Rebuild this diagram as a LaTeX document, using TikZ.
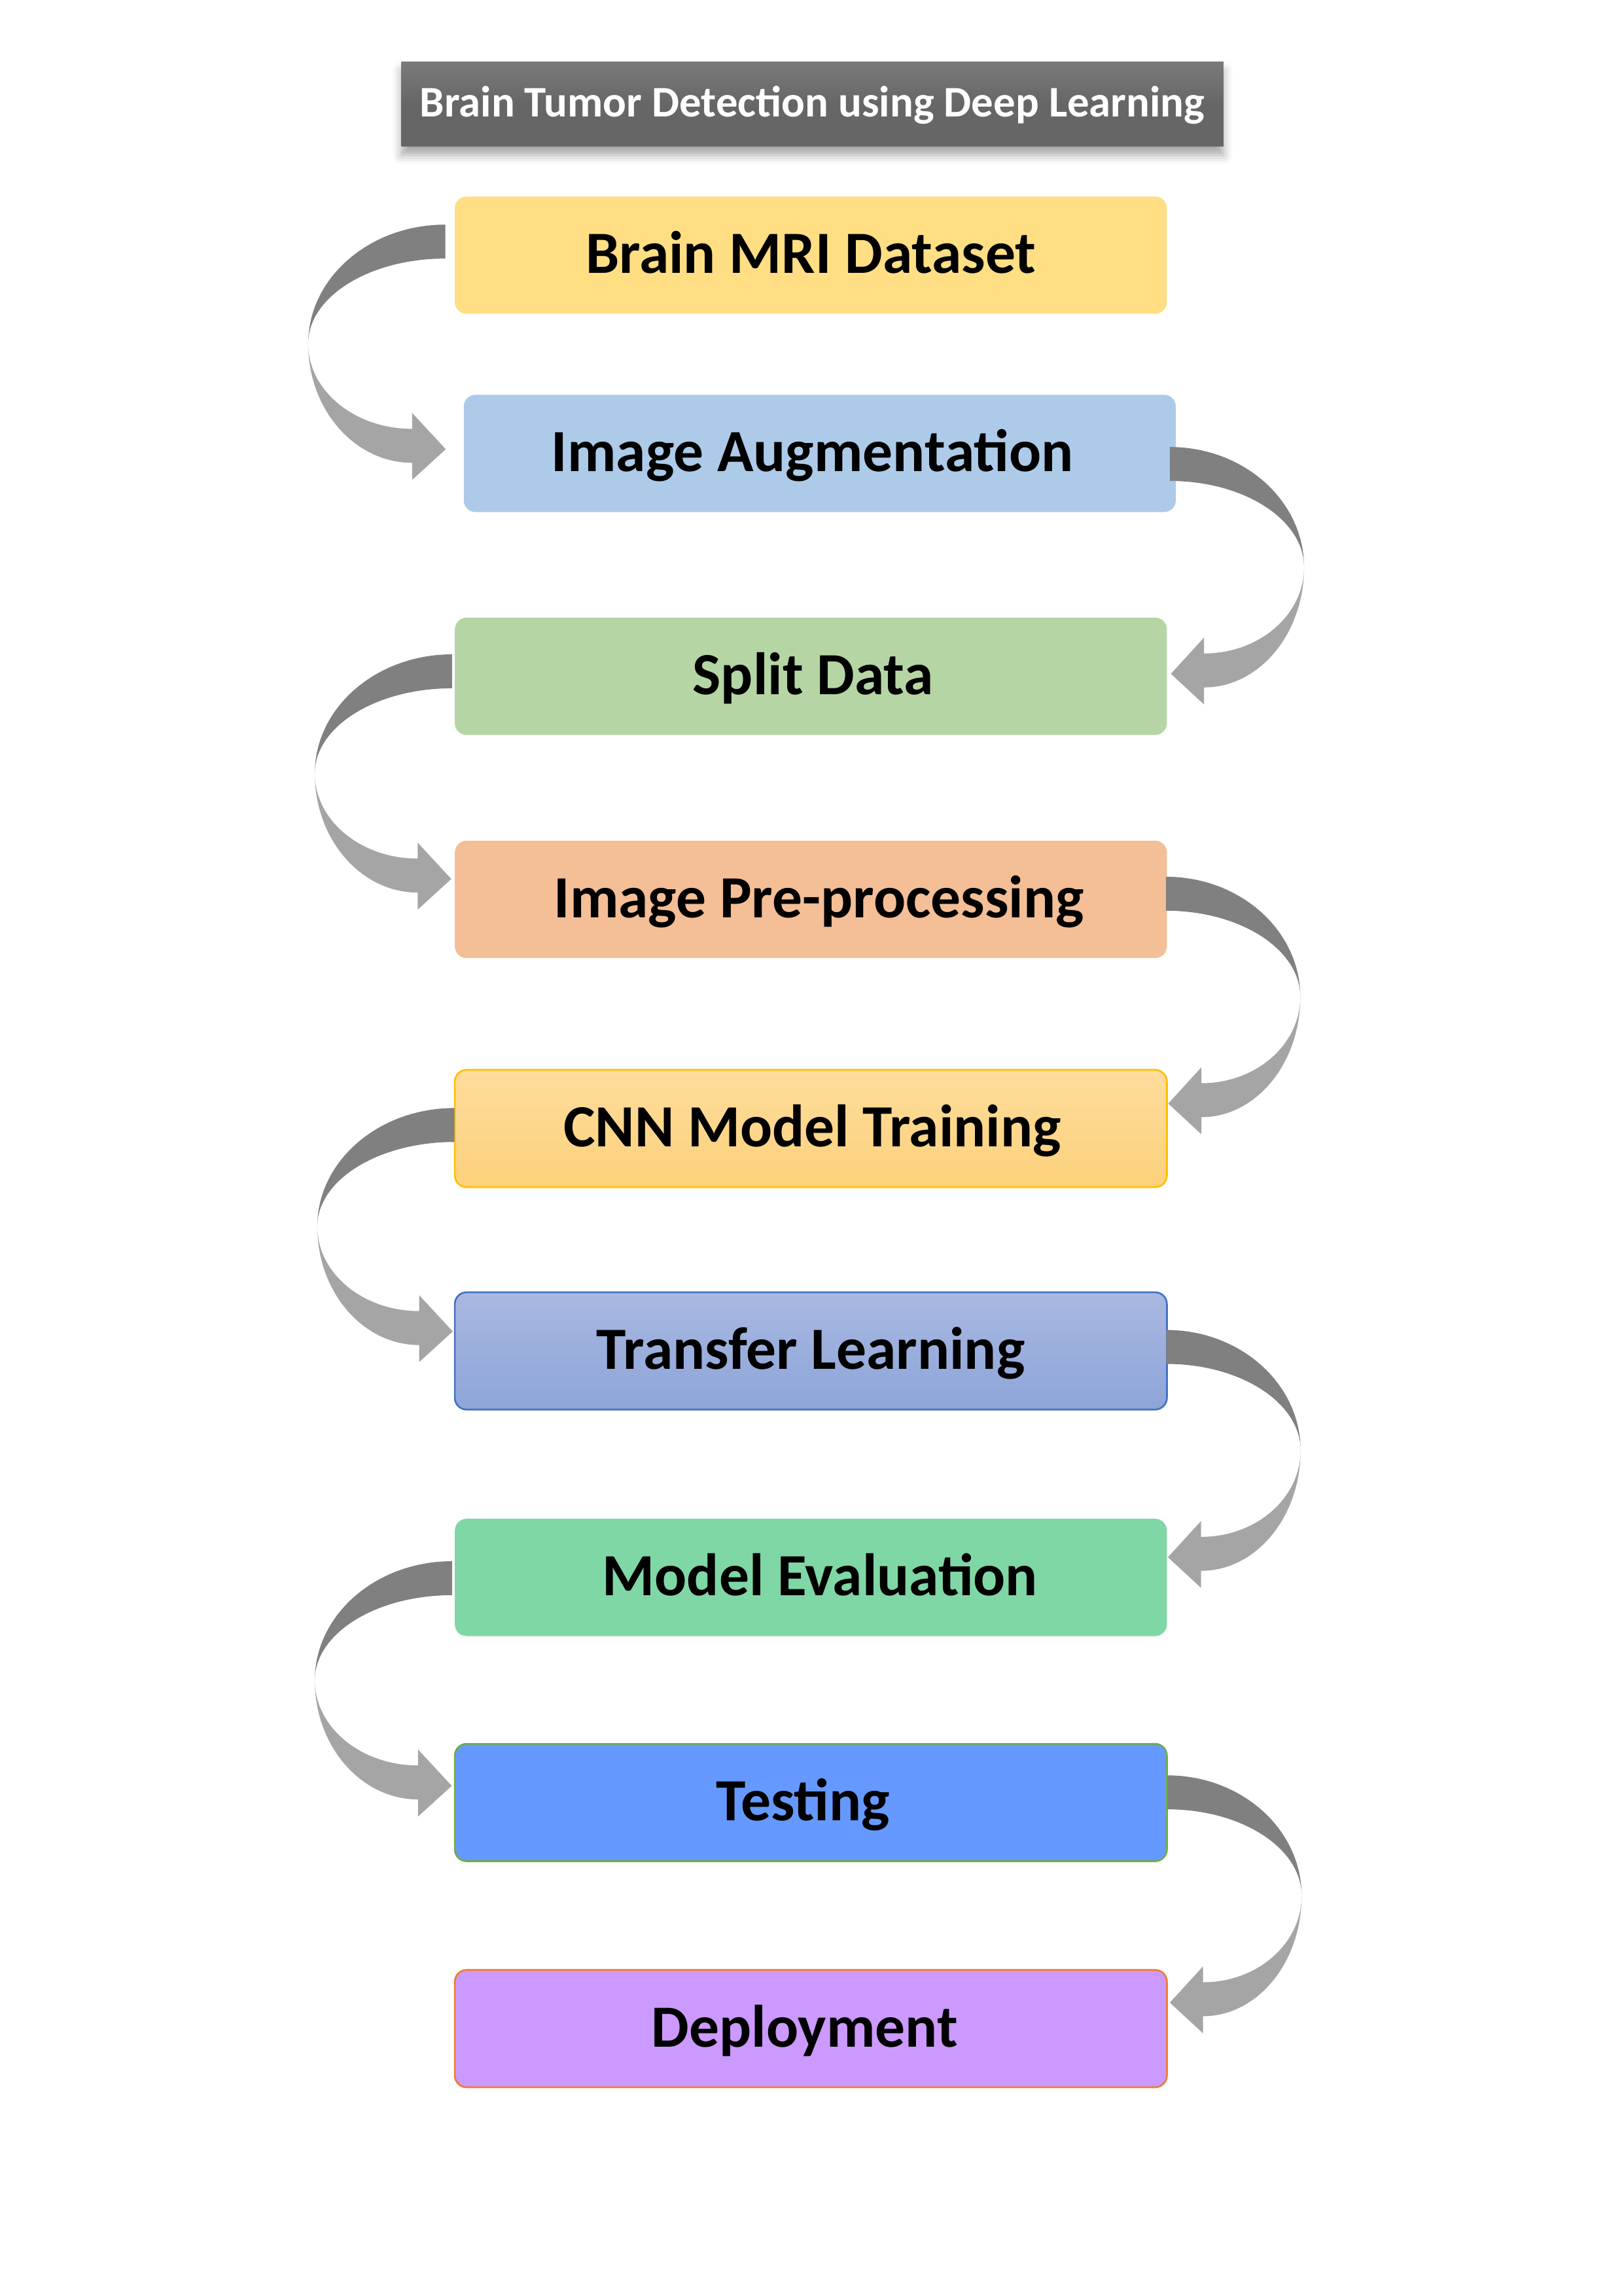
\documentclass[tikz,border=0pt]{standalone}
\usepackage{fontspec}
\setmainfont{Carlito}
\usetikzlibrary{calc,shadows.blur}
\definecolor{cA}{HTML}{FFDE84}
\definecolor{cB}{HTML}{ADCBE9}
\definecolor{cC}{HTML}{B5D6A4}
\definecolor{cD}{HTML}{F4BE97}
\definecolor{cEt}{HTML}{FEDC9C}
\definecolor{cEb}{HTML}{FCD17B}
\definecolor{cEd}{HTML}{FFC000}
\definecolor{cFt}{HTML}{A9B8E0}
\definecolor{cFb}{HTML}{8DA5D9}
\definecolor{cFd}{HTML}{4472C4}
\definecolor{cG}{HTML}{80D7A6}
\definecolor{cH}{HTML}{6699FF}
\definecolor{cHd}{HTML}{70AD47}
\definecolor{cI}{HTML}{CC99FF}
\definecolor{cId}{HTML}{ED7D31}
\definecolor{arrD}{HTML}{808080}
\definecolor{arrL}{HTML}{A5A5A5}
\definecolor{ttl}{HTML}{666666}
\definecolor{ttlt}{HTML}{7A7A7A}
\tikzset{
  stepbox/.style={rounded corners=4pt, minimum width=241.25pt, minimum height=39.75pt,
    inner sep=0pt, text height=12.3pt, text depth=0pt,
    font=\bfseries\fontsize{20.3}{24}\selectfont, text=black},
  titlebox/.style={minimum width=278.5pt, minimum height=28.5pt, inner sep=0pt,
    top color=ttlt, bottom color=ttl, middle color=ttl, text=white,
    text height=8.7pt, text depth=0pt,
    font=\bfseries\fontsize{14.8}{17}\selectfont,
    blur shadow={shadow xshift=0pt, shadow yshift=-3pt, shadow blur radius=3pt, shadow opacity=35}},
  arrdark/.style={fill=arrD},
  arrlight/.style={fill=arrL},
}
% right-side loop: #1 upper node, #2 lower node, tail offset (#3,#4), tip offset (#5,#6)
\newcommand\LoopRight[6]{%
  \coordinate (T1) at ($(#1.east)+(#3,#4)$);
  \coordinate (T2) at ($(T1)+(0,23)$);
  \coordinate (P) at ($(#2.east)+(#5,#6)$);
  \coordinate (Bt) at ($(P)+(22.5,-13.8)$);
  \coordinate (Bb) at ($(P)+(22.5,9.2)$);
  \coordinate (Ht) at ($(P)+(22.5,-24.6)$);
  \coordinate (Hb) at ($(P)+(22.5,20.8)$);
  \coordinate (Ex) at ($(T1)+(91,0)$);
  \coordinate (Em) at ($(T1)!0.5!(Bb)$);
  \coordinate (X) at (Em -| Ex);
  \fill[arrdark] (T1) .. controls ($(T1)!0.5523!(T1 -| X)$) and ($(X)!0.5523!(X |- T1)$) .. (X)
     .. controls ($(X)!0.5523!(X |- T2)$) and ($(T2)!0.5523!(T2 -| X)$) .. (T2) -- cycle;
  \fill[arrlight] (X) .. controls ($(X)!0.5523!(X |- Bb)$) and ($(Bb)!0.5523!(Bb -| X)$) .. (Bb)
     -- (Hb) -- (P) -- (Ht) -- (Bt)
     .. controls ($(Bt)!0.5523!(Bt -| X)$) and ($(X)!0.5523!(X |- Bt)$) .. (X) -- cycle;
}
% left-side loop
\newcommand\LoopLeft[6]{%
  \coordinate (T1) at ($(#1.west)+(#3,#4)$);
  \coordinate (T2) at ($(T1)+(0,23)$);
  \coordinate (P) at ($(#2.west)+(#5,#6)$);
  \coordinate (Bt) at ($(P)+(-22.8,-13.8)$);
  \coordinate (Bb) at ($(P)+(-22.8,9.2)$);
  \coordinate (Ht) at ($(P)+(-22.8,-24.6)$);
  \coordinate (Hb) at ($(P)+(-22.8,20.8)$);
  \coordinate (Ex) at ($(T1)+(-93,0)$);
  \coordinate (Em) at ($(T1)!0.5!(Bb)$);
  \coordinate (X) at (Em -| Ex);
  \fill[arrdark] (T1) .. controls ($(T1)!0.5523!(T1 -| X)$) and ($(X)!0.5523!(X |- T1)$) .. (X)
     .. controls ($(X)!0.5523!(X |- T2)$) and ($(T2)!0.5523!(T2 -| X)$) .. (T2) -- cycle;
  \fill[arrlight] (X) .. controls ($(X)!0.5523!(X |- Bb)$) and ($(Bb)!0.5523!(Bb -| X)$) .. (Bb)
     -- (Hb) -- (P) -- (Ht) -- (Bt)
     .. controls ($(Bt)!0.5523!(Bt -| X)$) and ($(X)!0.5523!(X |- Bt)$) .. (X) -- cycle;
}
\begin{document}
\begin{tikzpicture}[x=0.5pt,y=-0.5pt]
\useasboundingbox (0,0) rectangle (1100,1555.8);

\node[titlebox] (title) at (550.5,70.6) {Brain Tumor Detection using Deep Learning};

\node[stepbox, fill=cA] (b1) at (549.45,172.9) {Brain MRI Dataset};
\node[stepbox, fill=cB] (b2) at (555.5,307.25) {Image Augmentation\hspace*{5pt}};
\node[stepbox, fill=cC] (b3) at (549.45,458.25) {\hspace*{1.5pt}Split Data};
\node[stepbox, fill=cD] (b4) at (549.45,609.45) {\hspace*{5.6pt}Image Pre-processing};
\node[stepbox, top color=cEt, bottom color=cEb, draw=cEd, line width=0.6pt] (b5) at (549.45,764.7) {\hspace*{1pt}CNN Model Training};
\node[stepbox, top color=cFt, bottom color=cFb, draw=cFd, line width=0.6pt] (b6) at (549.45,915.4) {Transfer Learning};
\node[stepbox, fill=cG] (b7) at (549.45,1068.9) {\hspace*{6.2pt}Model Evaluation};
\node[stepbox, fill=cH, draw=cHd, line width=0.6pt] (b8) at (549.45,1221.4) {Testing\hspace*{5.3pt}};
\node[stepbox, fill=cI, draw=cId, line width=0.6pt] (b9) at (549.45,1374.6) {Deployment\hspace*{4.2pt}};

\LoopLeft{b1}{b2}{-6}{-20.7}{-11.8}{-2.85}
\LoopRight{b2}{b3}{-4.5}{-4.35}{2.3}{-1.65}
\LoopLeft{b3}{b4}{-1.5}{-14.85}{-2}{-13.85}
\LoopRight{b4}{b5}{-1}{-15.35}{0.3}{-16.9}
\LoopLeft{b5}{b6}{0.4}{-13.9}{-0.8}{-13.2}
\LoopRight{b6}{b7}{-1}{-14.2}{0.3}{-13.7}
\LoopLeft{b7}{b8}{-1.5}{-11}{-1.5}{-11.3}
\LoopRight{b8}{b9}{-0.3}{-18.4}{1.4}{-17.6}
\end{tikzpicture}
\end{document}
